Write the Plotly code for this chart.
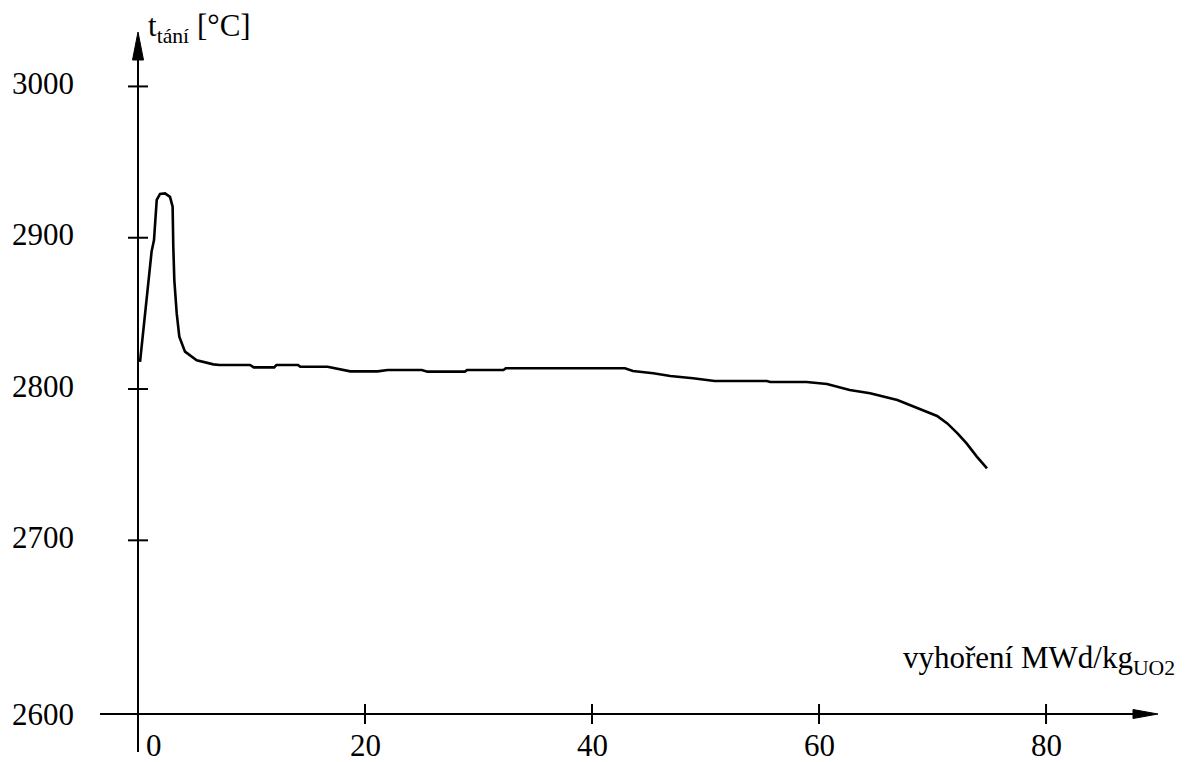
import plotly.graph_objects as go

# ---- data ----
burnup = [0.18, 0.62, 0.91, 1.2, 1.41, 1.5, 1.65, 1.94, 2.38, 2.82, 3.05, 3.11, 3.2, 3.41, 3.64,
          4.14, 5.17, 6.64, 7.2, 9.87, 10.2, 12.0, 12.2, 14.1, 14.3, 16.7, 17.8, 18.7, 21.1,
          22.0, 25.0, 25.5, 28.8, 29.0, 32.2, 32.4, 42.9, 43.6, 45.4, 46.9, 48.9, 50.8, 55.4,
          55.7, 58.9, 60.7, 62.7, 64.5, 66.9, 68.6, 70.4, 71.3, 72.2, 73.0, 73.9, 74.8]
t_melt = [2818.0, 2850.0, 2874.0, 2891.0, 2898.5, 2911.7, 2925.0, 2929.0, 2929.3, 2927.0, 2920.5,
          2894.0, 2872.0, 2850.0, 2834.6, 2824.7, 2819.0, 2816.3, 2815.9, 2815.9, 2814.3, 2814.3,
          2815.9, 2815.9, 2814.7, 2814.7, 2813.0, 2811.7, 2811.7, 2812.6, 2812.6, 2811.5, 2811.5,
          2812.6, 2812.6, 2813.7, 2813.7, 2811.9, 2810.4, 2808.6, 2807.1, 2805.3, 2805.3, 2804.6,
          2804.6, 2803.3, 2799.3, 2797.2, 2792.7, 2787.6, 2782.2, 2777.3, 2770.7, 2764.1, 2755.3,
          2747.6]

x_ticks = [0, 20, 40, 60, 80]
x_tick_labels = ["0", "20", "40", "60", "80"]
y_ticks = [2700, 2800, 2900, 3000]
y_tick_labels = ["2700", "2800", "2900", "3000"]
y_axis_label_bottom = "2600"

x_title = "vyhoření MWd/kg<sub>UO2</sub>"
y_title = "t<sub>tání</sub> [°C]"

# ---- layout constants ----
X_RANGE = [-3.348, 90.04]
Y_RANGE = [2560.1, 3037.3]
X_AXIS_Y = 2585.2          # where the horizontal axis is drawn
PX_X = 1060 / (X_RANGE[1] - X_RANGE[0])   # pixels per x unit
PX_Y = 722 / (Y_RANGE[1] - Y_RANGE[0])    # pixels per y unit

FONT = "Liberation Serif, Times New Roman, serif"
FS = 31
BLACK = "#000000"

fig = go.Figure()
fig.add_trace(go.Scatter(x=burnup, y=t_melt, mode="lines",
                         line=dict(color=BLACK, width=2.6), hoverinfo="skip",
                         showlegend=False))

shapes = []
line_style = dict(color=BLACK, width=2)
# vertical axis
shapes.append(dict(type="line", xref="x", yref="y", x0=0, x1=0,
                   y0=Y_RANGE[0], y1=Y_RANGE[1] - 28 / PX_Y - 2 / PX_Y, line=line_style))
# vertical arrow head
tip_y = Y_RANGE[1] - 2 / PX_Y
base_y = tip_y - 28 / PX_Y
hw = 5.5 / PX_X
shapes.append(dict(type="path", xref="x", yref="y",
                   path=f"M {-hw} {base_y} L 0 {tip_y} L {hw} {base_y} Z",
                   fillcolor=BLACK, line=dict(color=BLACK, width=1)))
# horizontal axis
tip_x = X_RANGE[1] - 2 / PX_X
base_x = tip_x - 25 / PX_X
shapes.append(dict(type="line", xref="x", yref="y", x0=X_RANGE[0], x1=base_x,
                   y0=X_AXIS_Y, y1=X_AXIS_Y, line=line_style))
hh = 4.5 / PX_Y
shapes.append(dict(type="path", xref="x", yref="y",
                   path=f"M {base_x} {X_AXIS_Y - hh} L {tip_x} {X_AXIS_Y} L {base_x} {X_AXIS_Y + hh} Z",
                   fillcolor=BLACK, line=dict(color=BLACK, width=1)))
# y ticks (crossing the axis)
for v in y_ticks:
    shapes.append(dict(type="line", xref="x", yref="y", x0=-10 / PX_X, x1=10 / PX_X,
                       y0=v, y1=v, line=line_style))
# x ticks (crossing the axis)
for v in x_ticks[1:]:
    shapes.append(dict(type="line", xref="x", yref="y", x0=v, x1=v,
                       y0=X_AXIS_Y - 10 / PX_Y, y1=X_AXIS_Y + 10 / PX_Y, line=line_style))

annotations = []
font = dict(family=FONT, size=FS, color=BLACK)
for v, t in zip(y_ticks, y_tick_labels):
    annotations.append(dict(x=0, y=v, xref="x", yref="y", text=t, showarrow=False,
                            xanchor="right", yanchor="middle", xshift=-62, yshift=3,
                            font=font))
annotations.append(dict(x=0, y=X_AXIS_Y, xref="x", yref="y", text=y_axis_label_bottom,
                        showarrow=False, xanchor="right", yanchor="middle", xshift=-62,
                        font=font))
for v, t in zip(x_ticks, x_tick_labels):
    annotations.append(dict(x=v, y=X_AXIS_Y, xref="x", yref="y", text=t, showarrow=False,
                            xanchor="center", yanchor="middle", yshift=-31,
                            xshift=16 if v == 0 else 0, font=font, borderpad=0))
annotations.append(dict(x=0, y=1, xref="x", yref="paper", text=y_title, showarrow=False,
                        xanchor="left", yanchor="middle", xshift=8, yshift=2, font=font))
annotations.append(dict(x=1, y=X_AXIS_Y, xref="paper", yref="y", text=x_title,
                        showarrow=False, xanchor="right", yanchor="middle", xshift=16,
                        yshift=54, font=font, borderpad=0))

# the page body adds an 8px offset, so the figure is 8px smaller on each axis
fig.update_layout(
    width=1177, height=754,
    margin=dict(l=92, r=25, t=22, b=10, pad=0),
    paper_bgcolor="white", plot_bgcolor="white",
    xaxis=dict(range=X_RANGE, visible=False, fixedrange=True),
    yaxis=dict(range=Y_RANGE, visible=False, fixedrange=True),
    shapes=shapes, annotations=annotations,
    showlegend=False,
    font=font,
)

fig.write_html("out.html")
